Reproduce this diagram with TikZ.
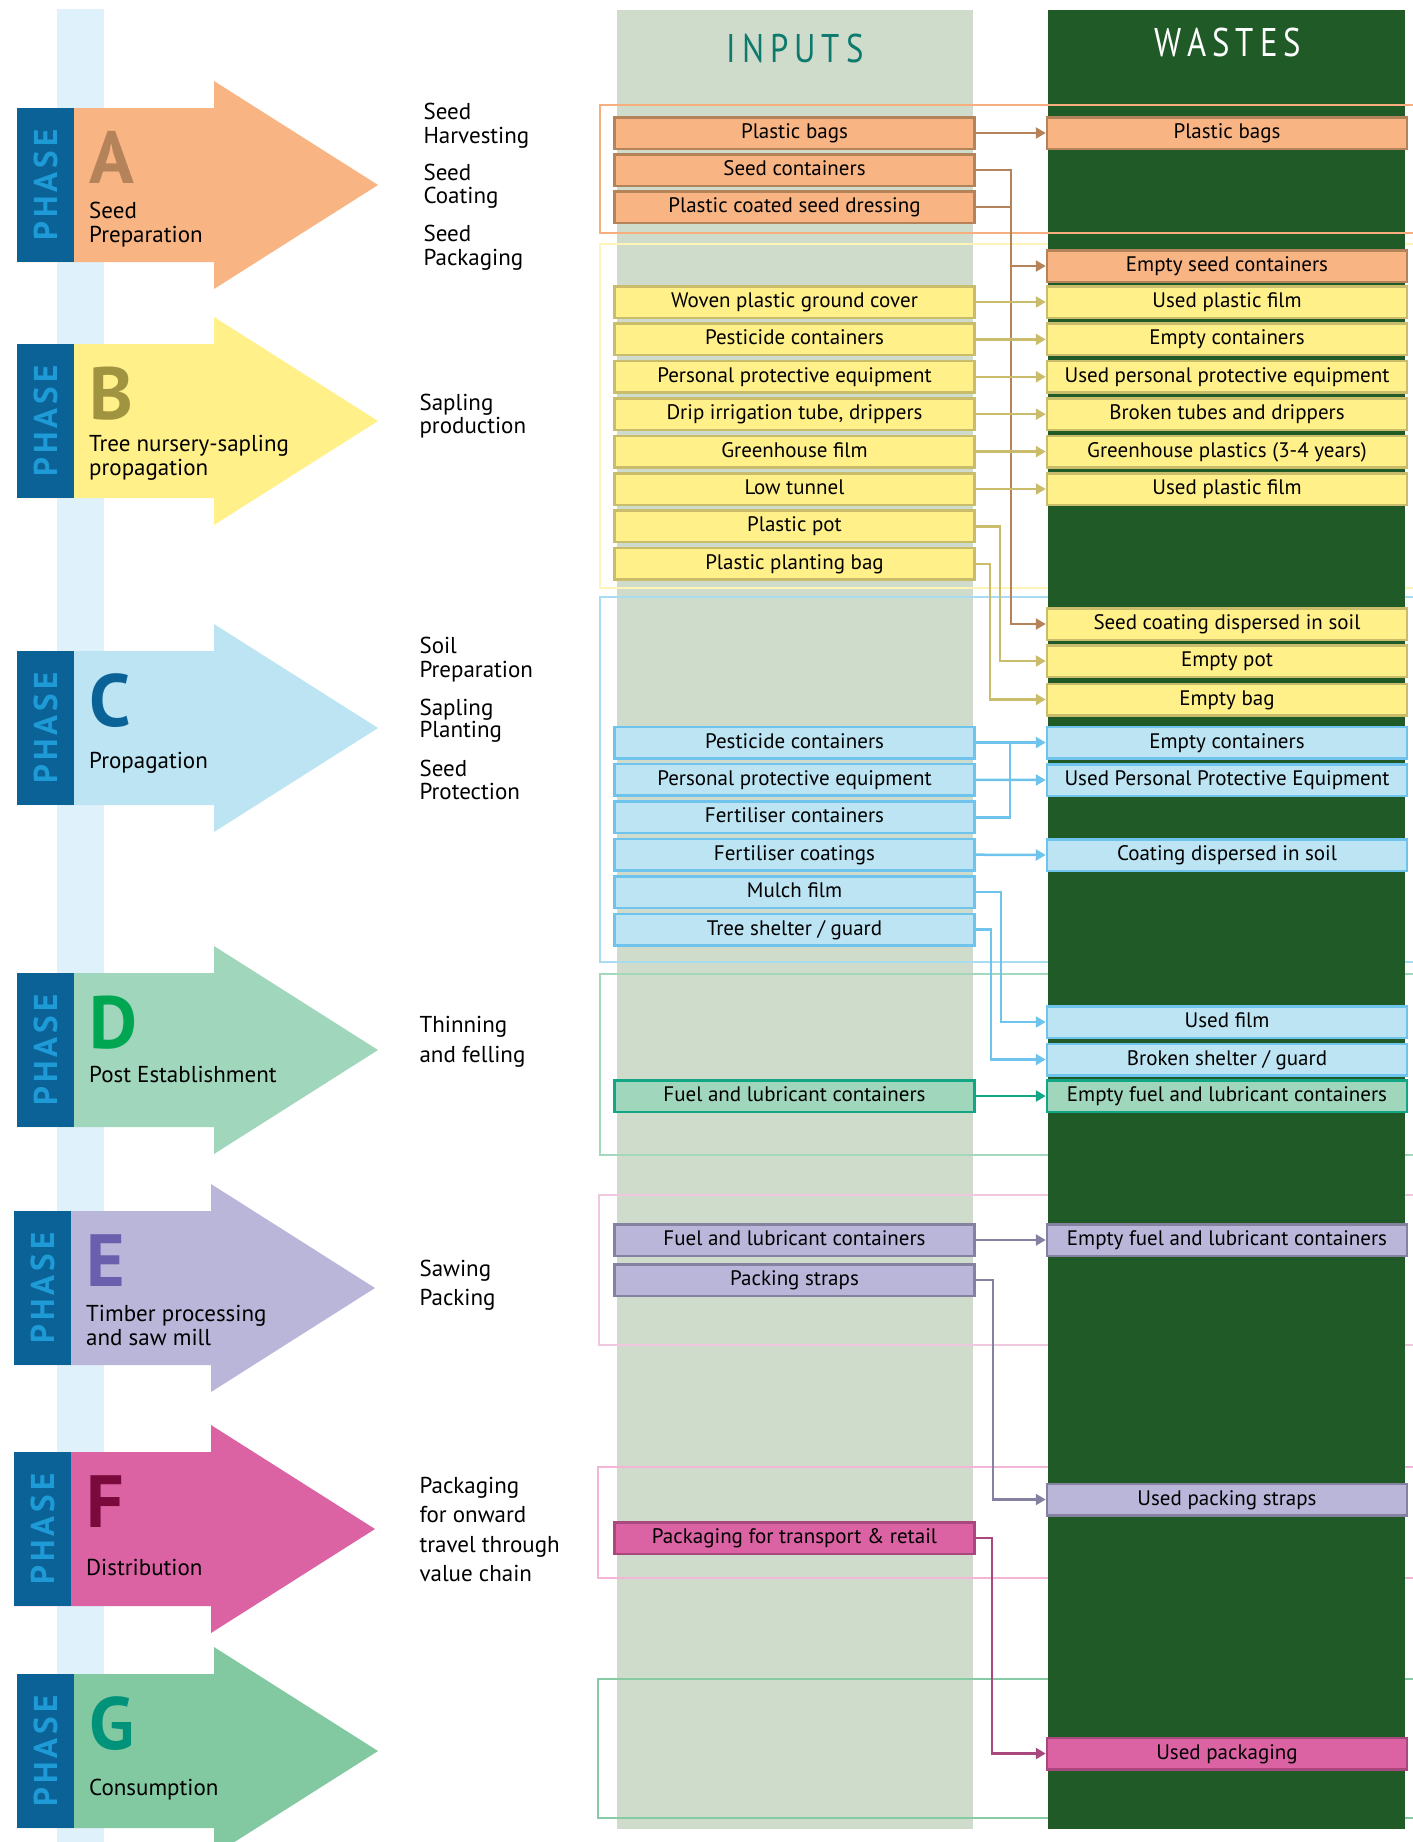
\documentclass[tikz,border=0pt]{standalone}
\usepackage{fontspec}
\setmainfont{PT Sans}
\newfontfamily\spacedfont[LetterSpace=12]{PT Sans}
\newfontfamily\headfont[FakeStretch=0.82,LetterSpace=15]{PT Sans}
\usetikzlibrary{arrows.meta}

\definecolor{phaseblue}{HTML}{0B6297}
\definecolor{phasetext}{HTML}{1E9BD7}
\definecolor{timeline}{HTML}{DFF1FA}
\definecolor{inputcol}{HTML}{D0DCCB}
\definecolor{wastecol}{HTML}{1F5A27}
\definecolor{inputtxt}{HTML}{0E7A6E}
% phase colours: fill, box line / connector, frame, letter
\definecolor{fillA}{HTML}{F8B483}\definecolor{lineA}{HTML}{B5835A}\definecolor{frameA}{HTML}{F7AE7E}\definecolor{letterA}{HTML}{B5835A}
\definecolor{fillB}{HTML}{FFF08A}\definecolor{lineB}{HTML}{C9BC6B}\definecolor{frameB}{HTML}{FFF4B8}\definecolor{letterB}{HTML}{A19440}
\definecolor{fillC}{HTML}{BCE4F3}\definecolor{lineC}{HTML}{6EC4EC}\definecolor{frameC}{HTML}{A9DCF1}\definecolor{letterC}{HTML}{0B6297}
\definecolor{fillD}{HTML}{A0D6BB}\definecolor{lineD}{HTML}{12A784}\definecolor{frameD}{HTML}{A3D8BC}\definecolor{letterD}{HTML}{00A651}
\definecolor{fillE}{HTML}{BAB6DA}\definecolor{lineE}{HTML}{8581A1}\definecolor{frameE}{HTML}{EFC7DF}\definecolor{letterE}{HTML}{6A5FAD}
\definecolor{fillF}{HTML}{DB62A3}\definecolor{lineF}{HTML}{A8487F}\definecolor{frameF}{HTML}{F3B6D6}\definecolor{letterF}{HTML}{7A0A3C}
\definecolor{fillG}{HTML}{82C9A2}\definecolor{frameG}{HTML}{86CBA4}\definecolor{letterG}{HTML}{00937A}

\tikzset{
  item/.style={draw=line#1, fill=fill#1, line width=2.5pt, minimum width=360pt,
    minimum height=31.5pt, inner sep=0pt, text height=15pt, text depth=4pt,
    font=\fontsize{21}{21}\selectfont},
  link/.style={draw=line#1, line width=2.5pt, -{Triangle[length=10pt,width=11pt]}},
  frame/.style={draw=frame#1, line width=2.5pt},
  side/.style={anchor=base west, font=\fontsize{23}{24}\selectfont},
}

\begin{document}
\begin{tikzpicture}[x=1pt,y=-1pt]
\useasboundingbox (0,0) rectangle (1413,1842);

% timeline behind the phases
\fill[timeline] (57,9) rectangle (104,1842);

% phase arrows (\b is the baseline of the last line of the name)
\foreach \p/\t/\dx/\lab/\b in {A/108/0/{Seed\\Preparation}/242,
    B/344/0/{Tree nursery-sapling\\propagation}/475,
    C/651/0/{Propagation}/768,
    D/973/0/{Post Establishment}/1082,
    E/1211/-3/{Timber processing\\and saw mill}/1345,
    F/1452/-3/{Distribution}/1575,
    G/1674/0/{Consumption}/1795}{
  \begin{scope}[xshift=\dx]
    \fill[fill\p] (17,\t) -- (214,\t) -- (214,\t-27) -- (378,\t+77)
      -- (214,\t+181) -- (214,\t+154) -- (17,\t+154) -- cycle;
    \fill[phaseblue] (17,\t) rectangle (74,\t+154);
    \node[rotate=90, text=phasetext, font={\spacedfont\bfseries\fontsize{33}{33}\selectfont}]
      (phase\p) at (45.5,\t+77) {PHASE};
    \node[anchor=base west, inner sep=0pt, text=letter\p,
      font={\bfseries\fontsize{74}{74}\selectfont}] (letter\p) at (89,\t+75) {\p};
    \node[anchor=base west, inner sep=0pt, align=left,
      font=\fontsize{23}{24}\selectfont] (name\p) at (89,\b) {\lab};
  \end{scope}
}

% stages beside the arrows
\foreach \y/\txt in {119/Seed, 143/Harvesting, 180/Seed, 203/Coating, 241/Seed, 265/Packaging}
  \node[side] (stageA\y) at (420,\y) {\txt};
\foreach \y/\txt in {410/Sapling, 433/production,
    653/Soil, 677/Preparation, 715/Sapling, 737/Planting, 776/Seed, 799/Protection,
    1032/Thinning, 1062/and felling, 1276/Sawing, 1305/Packing,
    1493/Packaging, 1522/for onward, 1552/travel through, 1581/value chain}
  \node[side] (stage\y) at (416,\y) {\txt};

% columns
\fill[inputcol] (617,10) rectangle (973,1829);
\node[anchor=base, text=inputtxt, font={\headfont\fontsize{40}{40}\selectfont}]
  (inputs) at (795,62) {INPUTS};

% phase frames
\draw[frame=B] (600,244) rectangle (1430,588);
\draw[frame=C] (600,597) rectangle (1430,962);
\draw[frame=D] (600,974) rectangle (1430,1155);
\draw[frame=E] (599,1195) rectangle (1430,1345);
\draw[frame=F] (598,1467) rectangle (1430,1578);
\draw[frame=G] (598,1679) rectangle (1430,1818);

\fill[wastecol] (1048,10) rectangle (1405,1829);
\node[anchor=base, text=white, font={\headfont\fontsize{40}{40}\selectfont}]
  (wastes) at (1228,56) {WASTES};
\draw[frame=A] (600,105) rectangle (1430,233);

% A: seed preparation
\node[item=A] (inA1) at (794.5,133) {Plastic bags};
\node[item=A] (inA2) at (794.5,170) {Seed containers};
\node[item=A] (inA3) at (794.5,207) {Plastic coated seed dressing};
\node[item=A] (wsA1) at (1227,133) {Plastic bags};
\node[item=A] (wsA2) at (1227,266) {Empty seed containers};

% B: nursery
\foreach \txt [count=\i] in {Woven plastic ground cover, Pesticide containers,
    Personal protective equipment, {Drip irrigation tube, drippers}, Greenhouse film,
    Low tunnel, Plastic pot, Plastic planting bag}
  \node[item=B] (inB\i) at (794.5,264.6+37.4*\i) {\txt};
\foreach \txt [count=\i] in {Used plastic film, Empty containers,
    Used personal protective equipment, Broken tubes and drippers,
    Greenhouse plastics (3-4 years), Used plastic film}
  \node[item=B] (wsB\i) at (1227,264.6+37.4*\i) {\txt};
\node[item=B] (wsB7) at (1227,624) {Seed coating dispersed in soil};
\node[item=B] (wsB8) at (1227,661) {Empty pot};
\node[item=B] (wsB9) at (1227,699.5) {Empty bag};

% C: propagation
\foreach \txt [count=\i] in {Pesticide containers, Personal protective equipment,
    Fertiliser containers, Fertiliser coatings, Mulch film, Tree shelter / guard}
  \node[item=C] (inC\i) at (794.5,705.1+37.4*\i) {\txt};
\node[item=C] (wsC1) at (1227,742.5) {Empty containers};
\node[item=C] (wsC2) at (1227,780) {Used Personal Protective Equipment};
\node[item=C] (wsC4) at (1227,855) {Coating dispersed in soil};
\node[item=C] (wsC5) at (1227,1022) {Used film};
\node[item=C] (wsC6) at (1227,1059.5) {Broken shelter / guard};

% D: post establishment
\node[item=D] (inD1) at (794.5,1096) {Fuel and lubricant containers};
\node[item=D] (wsD1) at (1227,1096) {Empty fuel and lubricant containers};

% E: timber processing
\node[item=E] (inE1) at (794.5,1240) {Fuel and lubricant containers};
\node[item=E] (inE2) at (794.5,1280) {Packing straps};
\node[item=E] (wsE1) at (1227,1240) {Empty fuel and lubricant containers};
\node[item=E] (wsE2) at (1227,1499.5) {Used packing straps};

% F: distribution
\node[item=F] (inF1) at (794.5,1538) {Packaging for transport \& retail};
\node[item=F] (wsF1) at (1227,1753.5) {Used packaging};

% connectors
\coordinate (jA) at (1011,0);
\coordinate (jB1) at (1000,0);
\coordinate (jB2) at (990,0);
\coordinate (jC) at (1010,0);
\coordinate (jC5) at (1001,0);
\coordinate (jC6) at (991,0);
\coordinate (jE) at (993,0);
\coordinate (jF) at (992,0);

\draw[link=A] (inA1.east) -- (wsA1.west);
\draw[link=A] (inA2.east) -- (inA2.east -| jA) |- (wsA2.west);
\draw[link=A] (inA3.east) -- (inA3.east -| jA) |- (wsB7.west);

\foreach \i in {1,...,6}
  \draw[link=B] (inB\i.east) -- (wsB\i.west);
\draw[link=B] (inB7.east) -- (inB7.east -| jB1) |- (wsB8.west);
\draw[link=B] (inB8.east) -- (inB8.east -| jB2) |- (wsB9.west);

\draw[link=C] (inC1.east) -- (wsC1.west);
\draw[link=C] (inC2.east) -- (wsC2.west);
\draw[link=C, -] (inC3.east) -| (inC1.east -| jC);
\draw[link=C] (inC4.east) -- (wsC4.west);
\draw[link=C] (inC5.east) -- (inC5.east -| jC5) |- (wsC5.west);
\draw[link=C] (inC6.east) -- (inC6.east -| jC6) |- (wsC6.west);

\draw[link=D] (inD1.east) -- (wsD1.west);

\draw[link=E] (inE1.east) -- (wsE1.west);
\draw[link=E] (inE2.east) -- (inE2.east -| jE) |- (wsE2.west);

\draw[link=F] (inF1.east) -- (inF1.east -| jF) |- (wsF1.west);
\end{tikzpicture}
\end{document}
